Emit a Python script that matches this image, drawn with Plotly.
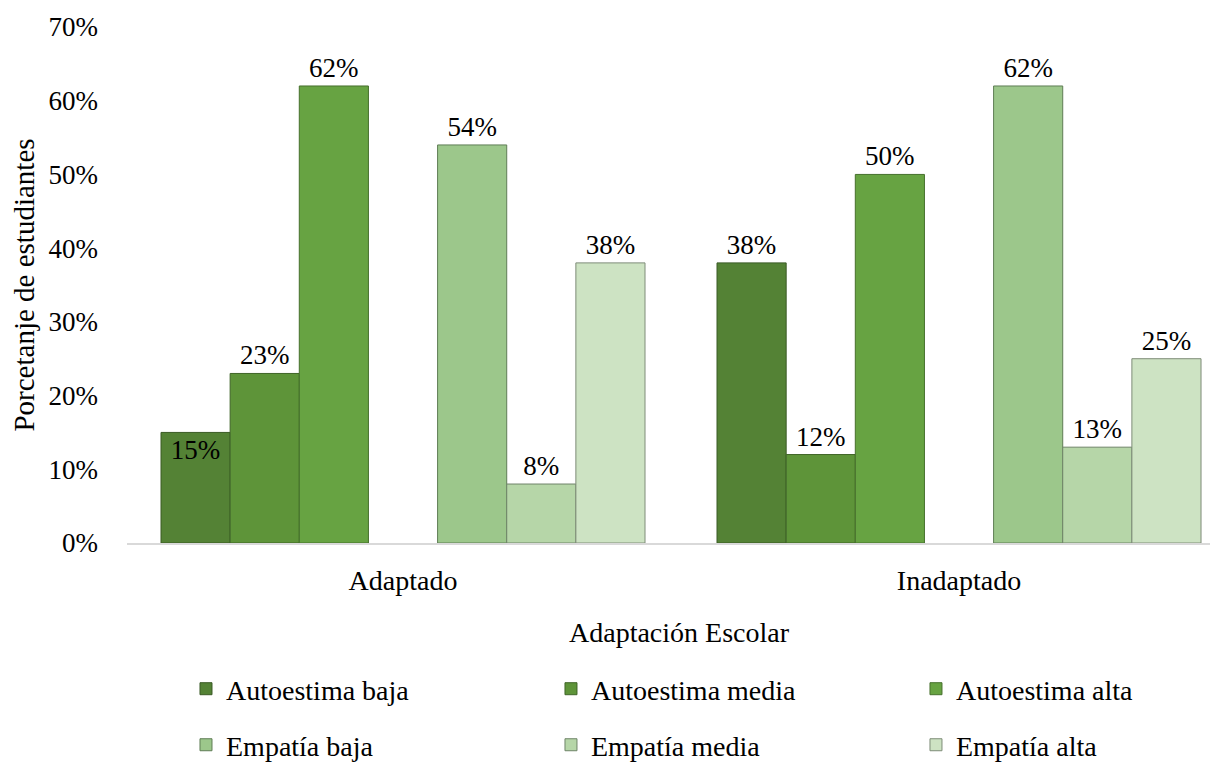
import plotly.graph_objects as go

# Datos
categorias = ["Adaptado", "Inadaptado"]
series = ["Autoestima baja", "Autoestima media", "Autoestima alta",
          "Empatía baja", "Empatía media", "Empatía alta"]
autoestima_baja = [15, 38]
autoestima_media = [23, 12]
autoestima_alta = [62, 50]
empatia_baja = [54, 62]
empatia_media = [8, 13]
empatia_alta = [38, 25]
valores = [autoestima_baja, autoestima_media, autoestima_alta,
           empatia_baja, empatia_media, empatia_alta]
y_ticks = [0, 10, 20, 30, 40, 50, 60, 70]

colores = ["#548235", "#5e9439", "#67a342", "#9cc78b", "#b6d6a8", "#cde3c3"]
bordes = ["#3a5a25", "#3f6527", "#46702c", "#5f7d55", "#6f8468", "#7e8c78"]
fuente = "Liberation Serif, Times New Roman, serif"

# posición de cada entrada de la leyenda (3 columnas x 2 filas)
leg_x = [0.1465, 0.4469, 0.7473]
leg_y = [0.0968, 0.0225]

fig = go.Figure()
for i, (nombre, vals) in enumerate(zip(series, valores)):
    if i == 3:
        # hueco vacío entre Autoestima y Empatía
        fig.add_trace(go.Bar(x=categorias, y=[None, None], showlegend=False,
                             hoverinfo="skip", marker_color="rgba(0,0,0,0)"))
    pos = ["outside"] * len(vals)
    if i == 0:
        pos = ["inside", "outside"]
    fig.add_trace(go.Bar(
        x=categorias, y=vals, name=nombre,
        text=[f"{v}%" for v in vals], textposition=pos,
        insidetextanchor="end", constraintext="none", cliponaxis=False,
        textfont=dict(family=fuente, size=27, color="black"),
        marker=dict(color=colores[i], line=dict(color=bordes[i], width=1)),
        legend="legend" if i == 0 else f"legend{i + 1}",
    ))

leyendas = {}
for i in range(6):
    clave = "legend" if i == 0 else f"legend{i + 1}"
    leyendas[clave] = dict(orientation="h", xanchor="left", yanchor="middle",
                           xref="container", yref="container",
                           x=leg_x[i % 3], y=leg_y[i // 3],
                           font=dict(family=fuente, size=28, color="black"),
                           bgcolor="rgba(0,0,0,0)")

# título del eje X (un poco a la derecha del centro, como en el original)
fig.add_annotation(text="Adaptación Escolar", xref="paper", yref="paper",
                   x=0.5106, y=-0.1744, xanchor="center", yanchor="middle",
                   showarrow=False, font=dict(family=fuente, size=28, color="black"))

fig.update_layout(
    width=1215, height=754,
    margin=dict(l=119, r=13, t=19, b=219, autoexpand=False),
    plot_bgcolor="white", paper_bgcolor="white",
    barmode="group", bargap=0.1295, bargroupgap=0,
    font=dict(family=fuente, size=27, color="black"),
    xaxis=dict(range=[-0.4964, 1.4514],
               showline=True, linecolor="#d9d9d9", linewidth=2,
               ticks="", tickfont=dict(size=28), ticklabelstandoff=11,
               automargin=False),
    yaxis=dict(title=dict(text="Porcetanje de estudiantes", standoff=18,
                          font=dict(size=29)),
               range=[0, 70], tickvals=y_ticks,
               ticktext=[f"{t}%" for t in y_ticks],
               showgrid=False, zeroline=False, showline=False,
               ticklabelstandoff=28, automargin=False,
               tickfont=dict(size=27)),
    **leyendas,
)

fig.write_html("out.html")
